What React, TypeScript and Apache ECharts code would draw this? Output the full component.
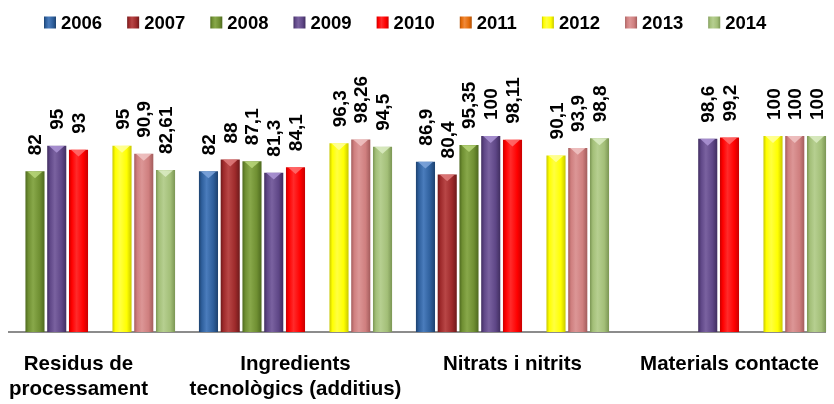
import React, { useEffect, useRef } from "react";
import * as echarts from "echarts";

const categories = [
  "Residus de\nprocessament",
  "Ingredients\ntecnològics (additius)",
  "Nitrats i nitrits",
  "Materials contacte",
];
const years = ["2006", "2007", "2008", "2009", "2010", "2011", "2012", "2013", "2014"];

const v2006 = [null, 82, 86.9, null];
const v2007 = [null, 88, 80.4, null];
const v2008 = [82, 87.1, 95.35, null];
const v2009 = [95, 81.3, 100, 98.6];
const v2010 = [93, 84.1, 98.11, 99.2];
const v2011 = [null, null, null, null];
const v2012 = [95, 96.3, 90.1, 100];
const v2013 = [90.9, 98.26, 93.9, 100];
const v2014 = [82.61, 94.5, 98.8, 100];
const seriesValues = [v2006, v2007, v2008, v2009, v2010, v2011, v2012, v2013, v2014];

// [dark edge, base, light highlight, cap]
const palette = [
  ["#1d426f", "#2e5f9c", "#4a7cbc", "#7fa6dc"],
  ["#6e1a1b", "#9e2a2b", "#b84646", "#e07e7e"],
  ["#4e6a1f", "#6f8f32", "#88a84a", "#b8d67a"],
  ["#412e60", "#5f4787", "#7a62a0", "#ad95d6"],
  ["#c80000", "#ff0000", "#ff2a2a", "#ff7070"],
  ["#b05006", "#e46c0a", "#f08a3a", "#f8b070"],
  ["#c8c800", "#ffff00", "#ffff40", "#ffffa0"],
  ["#a35c5c", "#cf7f7f", "#dc9696", "#f0c4c4"],
  ["#7b9654", "#a3bf78", "#b6cf90", "#dcecc4"],
];

const FONT = "Liberation Sans";

function grad(p: string[]) {
  return new echarts.graphic.LinearGradient(0, 0, 1, 0, [
    { offset: 0, color: p[0] },
    { offset: 0.15, color: p[1] },
    { offset: 0.4, color: p[2] },
    { offset: 0.75, color: p[1] },
    { offset: 1, color: p[0] },
  ]);
}

export default function App() {
  const ref = useRef<HTMLDivElement>(null);
  useEffect(() => {
    if (!ref.current) return;
    const chart = echarts.init(ref.current, undefined, { renderer: "svg" });
    const bars = years.map((y, i) => ({
      name: y,
      type: "bar",
      data: seriesValues[i],
      barGap: "14%",
      barCategoryGap: "11%",
      itemStyle: { color: grad(palette[i]) },
      label: {
        show: true,
        position: "top",
        rotate: 90,
        align: "left",
        verticalAlign: "middle",
        distance: 16,
        color: "#000",
        fontFamily: FONT,
        fontWeight: "bold",
        fontSize: 19,
        formatter: (p: any) => String(p.value).replace(".", ","),
      },
      z: 2,
    }));
    const caps = years.map((y, i) => ({
      name: y + "-cap",
      type: "pictorialBar",
      data: seriesValues[i],
      barGap: "14%",
      barCategoryGap: "11%",
      symbol: "triangle",
      symbolRotate: 180,
      symbolPosition: "end",
      symbolSize: ["80%", 7],
      itemStyle: { color: palette[i][3], opacity: 0.85 },
      silent: true,
      z: 3,
    }));
    chart.setOption({
      animation: false,
      textStyle: { fontFamily: FONT },
      legend: {
        data: years,
        left: 39,
        top: 8,
        icon: "rect",
        itemWidth: 12,
        itemHeight: 12,
        itemGap: 25,
        textStyle: { fontFamily: FONT, fontWeight: "bold", fontSize: 18.5, color: "#000" },
      },
      grid: {
        left: -30,
        width: 868,
        top: 136,
        height: 196,
        containLabel: false,
        outerBoundsMode: "none",
      },
      xAxis: {
        type: "category",
        data: categories,
        axisLine: { show: false },
        axisTick: { show: false },
        axisLabel: {
          interval: 0,
          margin: 18,
          fontFamily: FONT,
          fontWeight: "bold",
          fontSize: 20.5,
          lineHeight: 25,
          color: "#000",
        },
      },
      yAxis: { type: "value", min: 0, max: 100, show: false, splitLine: { show: false } },
      graphic: [
        {
          type: "line",
          shape: { x1: 8, y1: 332, x2: 826, y2: 332 },
          style: { stroke: "#8c8c8c", lineWidth: 2 },
          z: 1,
        },
      ],
      series: [...bars, ...caps],
    });
    return () => chart.dispose();
  }, []);
  return <div ref={ref} style={{ position: "fixed", left: 0, top: 0, width: 834, height: 404 }} />;
}
